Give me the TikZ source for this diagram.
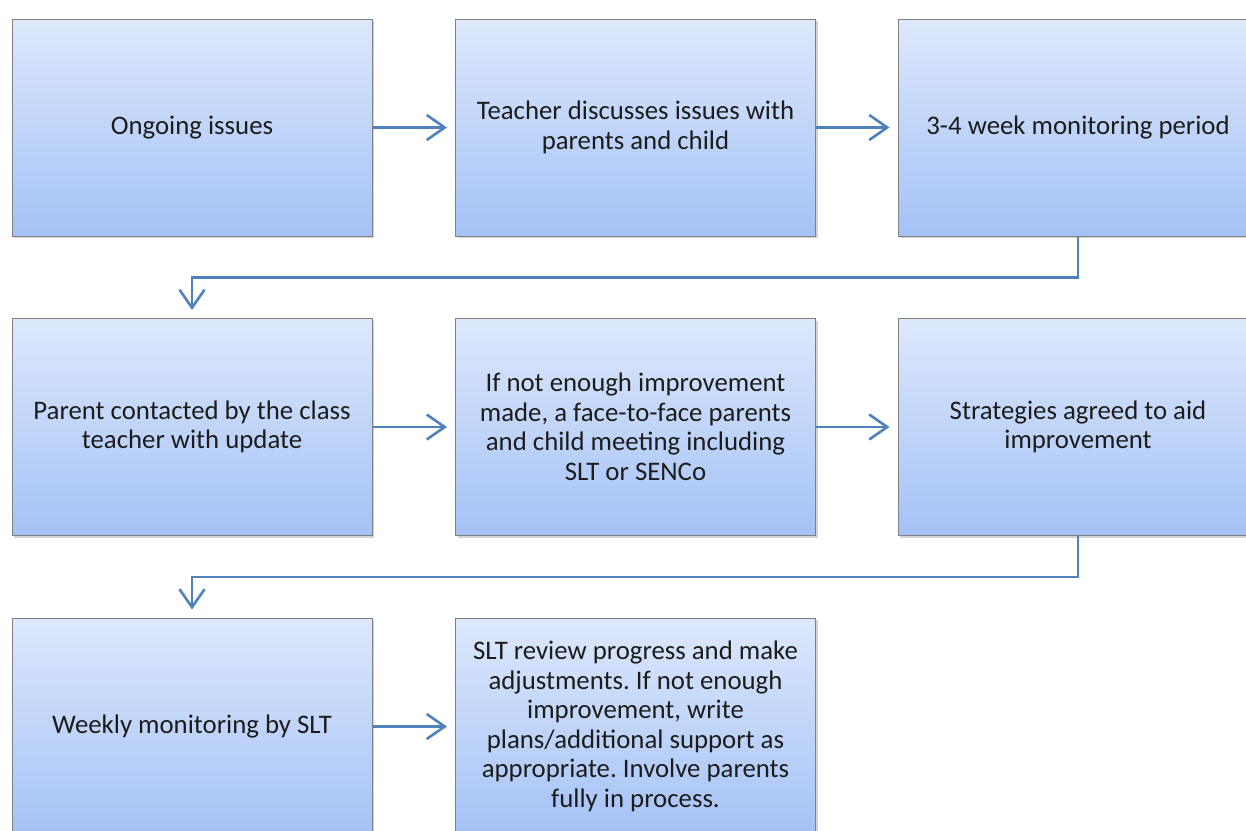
\documentclass[tikz,border=0pt]{standalone}
\usepackage{fontspec}
\setmainfont{Carlito}
\usepackage{tikz}
\usetikzlibrary{arrows.meta,shadows}

\definecolor{boxtop}{RGB}{221,232,252}
\definecolor{boxbot}{RGB}{164,194,246}
\definecolor{flowblue}{RGB}{79,129,189}
\definecolor{txt}{RGB}{28,28,28}
\frenchspacing

\begin{document}
\begin{tikzpicture}[x=0.5pt,y=-0.5pt]
            \tikzstyle{box}=[rectangle,draw=black!50,line width=0.5pt,top color=boxtop,bottom color=boxbot,
                minimum width=180pt,minimum height=108.5pt,inner sep=0pt,align=center,text=txt,
                font=\fontsize{13.4}{14.75}\selectfont,drop shadow={shadow xshift=1pt,shadow yshift=-1.2pt,opacity=0.35}]
            \tikzstyle{flow}=[draw=flowblue,line width=1.3pt,-{Straight Barb[length=9pt,width=12.5pt]},shorten >=4pt]
            \useasboundingbox (0,0) rectangle (1246,830);
                    \node[box] (B-1) at (192,127.5) {Ongoing issues};
                    \node[box] (B-2) at (635.5,127.5) {Teacher discusses issues with\\parents and child};
                    \node[box] (B-3) at (1078,127.5) {3-4 week monitoring period};
                    \node[box] (B-4) at (192,427) {Parent contacted by the class\\teacher with update};
                    \node[box] (B-5) at (635.5,427) {If not enough improvement\\made, a face-to-face parents\\and child meeting including\\SLT or SENCo};
                    \node[box] (B-6) at (1078,427) {Strategies agreed to aid\\improvement};
                    \node[box] (B-7) at (192,726.5) {Weekly monitoring by SLT};
                    \node[box] (B-8) at (635.5,726.5) {SLT review progress and make\\adjustments. If not enough\\improvement, write\\plans/additional support as\\appropriate. Involve parents\\fully in process.};

                \foreach \from/\to in {1/2, 2/3, 4/5, 5/6, 7/8}
                    \draw[flow] (B-\from) -- (B-\to);
                % elbow links down to the next row
                \foreach \from/\to in {3/4, 6/7}
                    \draw[flow] (B-\from.south) -- ++(0,41) -| (B-\to.north);
        \end{tikzpicture}
\end{document}
